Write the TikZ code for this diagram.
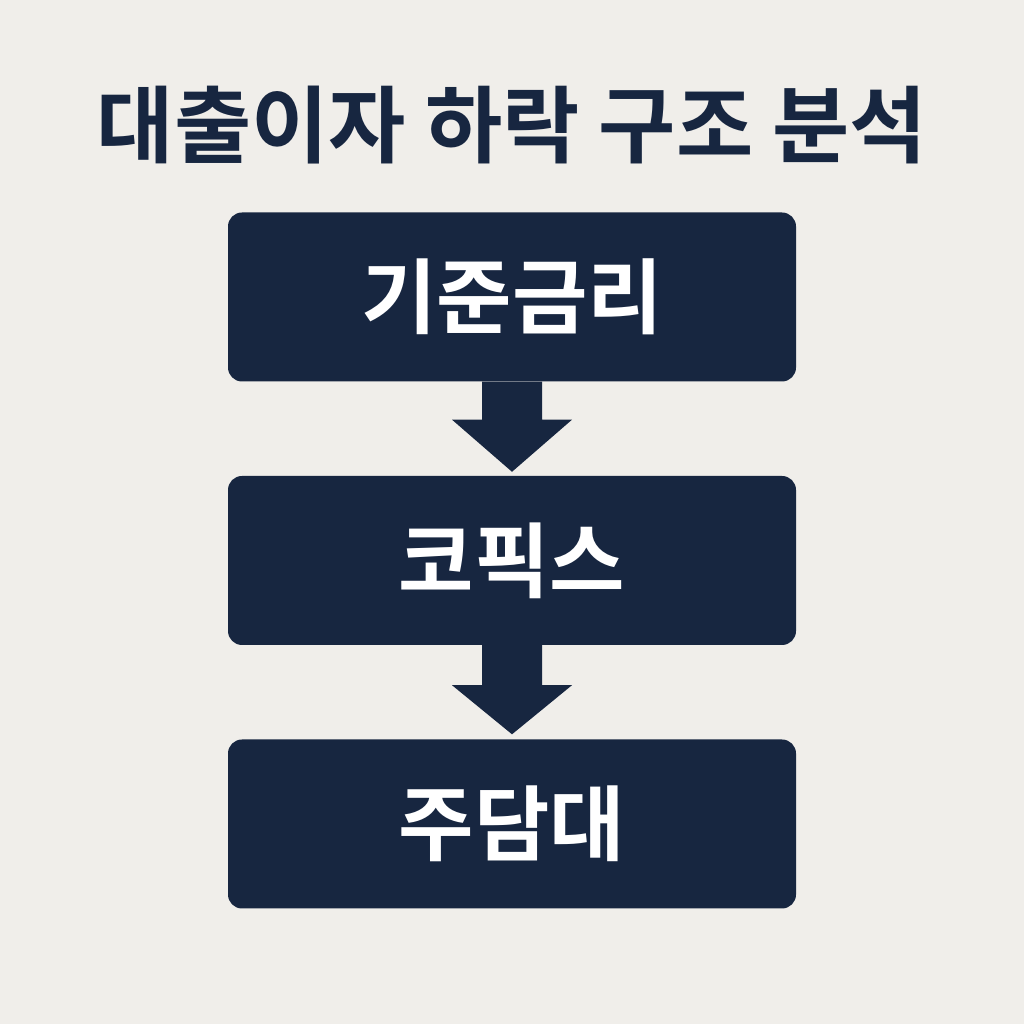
\documentclass[tikz,border=0pt]{standalone}
\usepackage{fontspec}
\newfontfamily\kr{Noto Sans CJK KR Bold}
\usetikzlibrary{calc}
\definecolor{bg}{HTML}{F0EEEA}
\definecolor{navy}{HTML}{172640}
\tikzset{
  box/.style={fill=navy, rounded corners=14pt, minimum width=568pt, minimum height=169pt, inner sep=0pt, text=white, font=\kr\fontsize{82}{90}\selectfont},
  downarrow/.style={fill=navy}
}
\begin{document}
\begin{tikzpicture}[x=1pt,y=1pt]
\fill[bg] (0,0) rectangle (1024,1024);
\useasboundingbox (0,0) rectangle (1024,1024);
\node[text=navy, font=\kr\fontsize{84}{92}\selectfont] (title) at (512,899) {대출이자 하락 구조 분석};
\node[box] (b1) at (512,727) {기준금리};
\node[box] (b2) at (512,463.5) {코픽스};
\node[box] (b3) at (512,200) {주담대};
\fill[downarrow] ($(b1.south)+(-30,0)$) -- ($(b1.south)+(30,0)$) -- ($(b1.south)+(30,-38)$) -- ($(b1.south)+(60,-38)$) -- ($(b2.north)+(0,4)$) -- ($(b1.south)+(-60,-38)$) -- ($(b1.south)+(-30,-38)$) -- cycle;
\fill[downarrow] ($(b2.south)+(-30,0)$) -- ($(b2.south)+(30,0)$) -- ($(b2.south)+(30,-40)$) -- ($(b2.south)+(60,-40)$) -- ($(b3.north)+(0,5)$) -- ($(b2.south)+(-60,-40)$) -- ($(b2.south)+(-30,-40)$) -- cycle;
\end{tikzpicture}
\end{document}
